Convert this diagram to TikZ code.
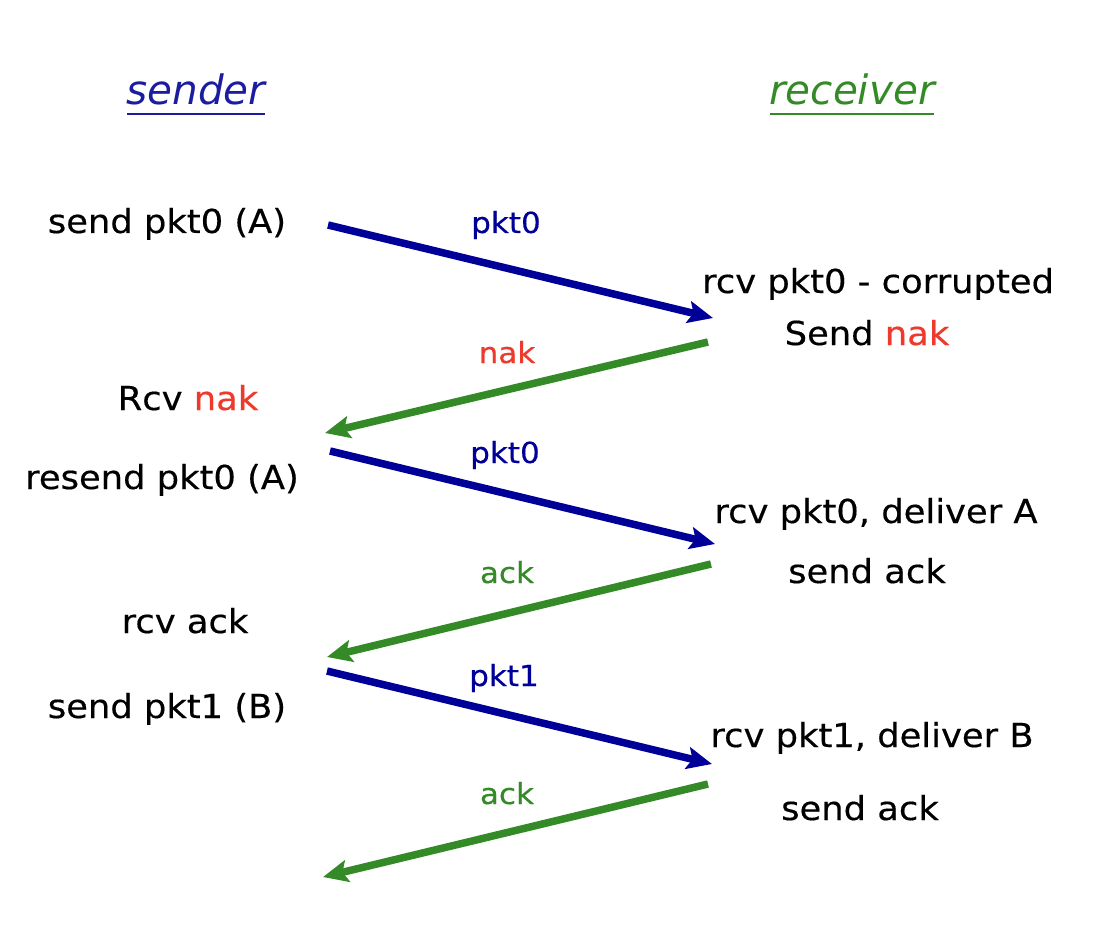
\documentclass[tikz,border=0pt]{standalone}
\usepackage{fontspec}
\setmainfont{DejaVu Sans}[FakeStretch=1.07,FakeBold=0.4]
\newfontfamily\titlef{DejaVu Sans}
\usetikzlibrary{arrows.meta}
\definecolor{pktblue}{RGB}{0,0,153}
\definecolor{titleblue}{RGB}{28,28,160}
\definecolor{ackgreen}{RGB}{52,138,38}
\definecolor{nakred}{RGB}{238,58,44}
\tikzset{
  txt/.style={inner sep=0pt, anchor=base, font=\fontsize{33}{38}\selectfont},
  lbl/.style={inner sep=0pt, anchor=base, font=\fontsize{29}{34}\selectfont},
  ttl/.style={inner sep=0pt, anchor=base, font=\titlef\itshape\fontsize{40.5}{48}\selectfont},
  msg/.style={line width=7.5pt, -{Stealth[length=25pt,width=22pt,inset=5pt]}},
  pktmsg/.style={msg, draw=pktblue, fill=pktblue},
  ackmsg/.style={msg, draw=ackgreen, fill=ackgreen},
  uline/.style={line width=2pt}
}
\begin{document}
\begin{tikzpicture}[x=1pt,y=-1pt]
\useasboundingbox (0,0) rectangle (1098,944);
% titles
\node[ttl, text=titleblue] (sender) at (196,105) {sender};
\node[ttl, text=ackgreen] (receiver) at (852,105) {receiver};
\draw[uline, titleblue] (127,114) -- (265,114);
\draw[uline, ackgreen] (770,114) -- (934,114);
% sender side texts
\node[txt] (s1) at (167,233) {send pkt0 (A)};
\node[txt] (s2) at (188,410) {Rcv \textcolor{nakred}{nak}};
\node[txt] (s3) at (162,489) {resend pkt0 (A)};
\node[txt] (s4) at (185,633) {rcv ack};
\node[txt] (s5) at (167,718) {send pkt1 (B)};
% receiver side texts
\node[txt] (r1) at (878,293) {rcv pkt0 - corrupted};
\node[txt] (r2) at (867,345) {Send \textcolor{nakred}{nak}};
\node[txt] (r3) at (876,523) {rcv pkt0, deliver A};
\node[txt] (r4) at (867,583) {send ack};
\node[txt] (r5) at (872,747) {rcv pkt1, deliver B};
\node[txt] (r6) at (860,820) {send ack};
% message labels
\node[lbl, text=pktblue] (l1) at (506,233) {pkt0};
\node[lbl, text=nakred] (l2) at (507,363) {nak};
\node[lbl, text=pktblue] (l3) at (505,463) {pkt0};
\node[lbl, text=ackgreen] (l4) at (507,583) {ack};
\node[lbl, text=pktblue] (l5) at (504,686) {pkt1};
\node[lbl, text=ackgreen] (l6) at (507,804) {ack};
% arrow end points
\coordinate (a1s) at (328,225); \coordinate (a1e) at (713,318);
\coordinate (a2s) at (708,342); \coordinate (a2e) at (325,433);
\coordinate (a3s) at (330,451); \coordinate (a3e) at (715,544);
\coordinate (a4s) at (711,564); \coordinate (a4e) at (327,657);
\coordinate (a5s) at (327,671); \coordinate (a5e) at (712,764);
\coordinate (a6s) at (708,784); \coordinate (a6e) at (323,877);
% arrows
\draw[pktmsg] (a1s) -- (a1e);
\draw[ackmsg] (a2s) -- (a2e);
\draw[pktmsg] (a3s) -- (a3e);
\draw[ackmsg] (a4s) -- (a4e);
\draw[pktmsg] (a5s) -- (a5e);
\draw[ackmsg] (a6s) -- (a6e);
\end{tikzpicture}
\end{document}
